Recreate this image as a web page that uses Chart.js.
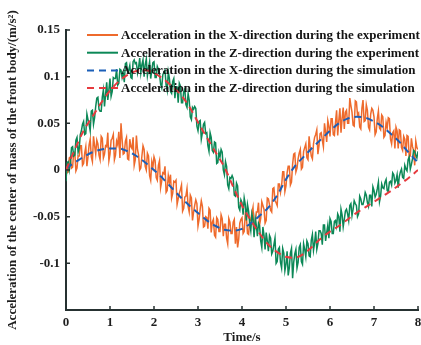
<!DOCTYPE html>
<html>
<head>
<meta charset="utf-8">
<script src="https://cdn.jsdelivr.net/npm/chart.js@4.4.0/dist/chart.umd.min.js"></script>
<style>
  html, body { margin: 0; padding: 0; background: #fff; }
  #wrap { width: 421px; height: 345px; }
</style>
</head>
<body>
<div id="wrap"><canvas id="accelChart" width="421" height="345"></canvas></div>
<script>
// time axes (s)
const simTime = [0, 0.2, 0.4, 0.6, 0.8, 1, 1.2, 1.4, 1.6, 1.8, 2, 2.2, 2.4, 2.6, 2.8, 3, 3.2, 3.4, 3.6, 3.8,
  4, 4.2, 4.4, 4.6, 4.8, 5, 5.2, 5.4, 5.6, 5.8, 6, 6.2, 6.4, 6.6, 6.8, 7, 7.2, 7.4, 7.6, 7.8, 8];
const expTime = [
  0, 0.025, 0.05, 0.075, 0.1, 0.125, 0.15, 0.175, 0.2, 0.225, 0.25, 0.275, 0.3, 0.325, 0.35, 0.375,
  0.4, 0.425, 0.45, 0.475, 0.5, 0.525, 0.55, 0.575, 0.6, 0.625, 0.65, 0.675, 0.7, 0.725, 0.75, 0.775,
  0.8, 0.825, 0.85, 0.875, 0.9, 0.925, 0.95, 0.975, 1, 1.025, 1.05, 1.075, 1.1, 1.125, 1.15, 1.175,
  1.2, 1.225, 1.25, 1.275, 1.3, 1.325, 1.35, 1.375, 1.4, 1.425, 1.45, 1.475, 1.5, 1.525, 1.55, 1.575,
  1.6, 1.625, 1.65, 1.675, 1.7, 1.725, 1.75, 1.775, 1.8, 1.825, 1.85, 1.875, 1.9, 1.925, 1.95, 1.975,
  2, 2.025, 2.05, 2.075, 2.1, 2.125, 2.15, 2.175, 2.2, 2.225, 2.25, 2.275, 2.3, 2.325, 2.35, 2.375,
  2.4, 2.425, 2.45, 2.475, 2.5, 2.525, 2.55, 2.575, 2.6, 2.625, 2.65, 2.675, 2.7, 2.725, 2.75, 2.775,
  2.8, 2.825, 2.85, 2.875, 2.9, 2.925, 2.95, 2.975, 3, 3.025, 3.05, 3.075, 3.1, 3.125, 3.15, 3.175,
  3.2, 3.225, 3.25, 3.275, 3.3, 3.325, 3.35, 3.375, 3.4, 3.425, 3.45, 3.475, 3.5, 3.525, 3.55, 3.575,
  3.6, 3.625, 3.65, 3.675, 3.7, 3.725, 3.75, 3.775, 3.8, 3.825, 3.85, 3.875, 3.9, 3.925, 3.95, 3.975,
  4, 4.025, 4.05, 4.075, 4.1, 4.125, 4.15, 4.175, 4.2, 4.225, 4.25, 4.275, 4.3, 4.325, 4.35, 4.375,
  4.4, 4.425, 4.45, 4.475, 4.5, 4.525, 4.55, 4.575, 4.6, 4.625, 4.65, 4.675, 4.7, 4.725, 4.75, 4.775,
  4.8, 4.825, 4.85, 4.875, 4.9, 4.925, 4.95, 4.975, 5, 5.025, 5.05, 5.075, 5.1, 5.125, 5.15, 5.175,
  5.2, 5.225, 5.25, 5.275, 5.3, 5.325, 5.35, 5.375, 5.4, 5.425, 5.45, 5.475, 5.5, 5.525, 5.55, 5.575,
  5.6, 5.625, 5.65, 5.675, 5.7, 5.725, 5.75, 5.775, 5.8, 5.825, 5.85, 5.875, 5.9, 5.925, 5.95, 5.975,
  6, 6.025, 6.05, 6.075, 6.1, 6.125, 6.15, 6.175, 6.2, 6.225, 6.25, 6.275, 6.3, 6.325, 6.35, 6.375,
  6.4, 6.425, 6.45, 6.475, 6.5, 6.525, 6.55, 6.575, 6.6, 6.625, 6.65, 6.675, 6.7, 6.725, 6.75, 6.775,
  6.8, 6.825, 6.85, 6.875, 6.9, 6.925, 6.95, 6.975, 7, 7.025, 7.05, 7.075, 7.1, 7.125, 7.15, 7.175,
  7.2, 7.225, 7.25, 7.275, 7.3, 7.325, 7.35, 7.375, 7.4, 7.425, 7.45, 7.475, 7.5, 7.525, 7.55, 7.575,
  7.6, 7.625, 7.65, 7.675, 7.7, 7.725, 7.75, 7.775, 7.8, 7.825, 7.85, 7.875, 7.9, 7.925, 7.95, 7.975,
  8];

// simulation (m/s^2)
const xSim = [0.002, 0.008, 0.014, 0.019, 0.022, 0.023, 0.023, 0.020, 0.015, 0.008, 0.000, -0.009, -0.019, -0.029,
  -0.038, -0.046, -0.054, -0.060, -0.064, -0.065, -0.063, -0.057, -0.049, -0.040, -0.027, -0.010, 0.004, 0.014,
  0.024, 0.033, 0.042, 0.050, 0.055, 0.057, 0.056, 0.052, 0.046, 0.038, 0.029, 0.018, 0.008];
const zSim = [0.000, 0.022, 0.042, 0.057, 0.072, 0.085, 0.095, 0.102, 0.106, 0.107, 0.104, 0.098, 0.090, 0.081,
  0.068, 0.051, 0.035, 0.019, 0.003, -0.018, -0.038, -0.054, -0.068, -0.080, -0.088, -0.093, -0.094, -0.090,
  -0.082, -0.073, -0.066, -0.060, -0.053, -0.046, -0.040, -0.034, -0.028, -0.022, -0.015, -0.008, 0.000];

// experiment (m/s^2)
const xExp = [
  0.004, -0.003, -0.002, 0.013, 0.014, 0.002, 0.003, 0.019, 0.019, -0.001, 0.002, 0.015, 0.015, 0.026, 0.026, 0.005,
  0.007, 0.018, 0.025, 0.004, 0.014, 0.027, 0.033, 0.014, 0.009, 0.036, 0.026, 0.017, 0.032, 0.028, 0.016, 0.011,
  0.036, 0.034, 0.013, 0.017, 0.026, 0.025, 0.040, 0.010, 0.017, 0.032, 0.034, 0.038, 0.011, 0.016, 0.031, 0.027,
  0.041, 0.013, 0.050, 0.033, 0.017, 0.018, 0.031, 0.035, 0.012, 0.011, 0.033, 0.025, 0.023, 0.035, 0.005, 0.011,
  0.037, 0.022, 0.016, 0.000, 0.002, 0.015, 0.026, 0.022, 0.004, 0.000, 0.018, 0.015, -0.006, -0.011, 0.009, 0.003,
  0.014, 0.010, -0.008, -0.011, 0.005, 0.010, -0.019, -0.012, -0.003, -0.004, 0.004, -0.024, -0.022, -0.006, -0.013, -0.005,
  -0.030, -0.025, -0.012, -0.013, -0.011, -0.037, -0.031, -0.025, -0.021, -0.016, -0.044, -0.041, -0.029, -0.028, -0.020, -0.039,
  -0.045, -0.027, -0.030, -0.054, -0.045, -0.038, -0.032, -0.036, -0.060, -0.053, -0.042, -0.033, -0.039, -0.061, -0.060, -0.050,
  -0.051, -0.063, -0.041, -0.043, -0.067, -0.056, -0.053, -0.070, -0.072, -0.051, -0.053, -0.066, -0.066, -0.048, -0.052, -0.071,
  -0.058, -0.058, -0.073, -0.079, -0.052, -0.056, -0.068, -0.068, -0.056, -0.053, -0.079, -0.061, -0.083, -0.074, -0.057, -0.053,
  -0.051, -0.068, -0.066, -0.047, -0.050, -0.068, -0.069, -0.055, -0.053, -0.046, -0.040, -0.066, -0.061, -0.045, -0.045, -0.035,
  -0.059, -0.052, -0.034, -0.038, -0.042, -0.057, -0.054, -0.030, -0.031, -0.037, -0.043, -0.045, -0.020, -0.019, -0.033, -0.035,
  -0.038, -0.015, -0.015, -0.024, -0.017, -0.002, -0.002, -0.023, -0.017, -0.003, 0.004, 0.004, -0.016, -0.013, 0.006, 0.017,
  0.018, -0.002, 0.002, 0.012, 0.018, 0.022, 0.001, 0.003, 0.020, 0.024, 0.028, 0.013, 0.011, 0.036, 0.024, 0.015,
  0.012, 0.028, 0.035, 0.038, 0.043, 0.017, 0.026, 0.039, 0.040, 0.032, 0.025, 0.050, 0.041, 0.030, 0.053, 0.047,
  0.036, 0.055, 0.055, 0.038, 0.037, 0.051, 0.064, 0.037, 0.053, 0.066, 0.040, 0.055, 0.067, 0.044, 0.062, 0.064,
  0.050, 0.050, 0.077, 0.069, 0.062, 0.048, 0.047, 0.074, 0.073, 0.059, 0.061, 0.046, 0.044, 0.066, 0.075, 0.052,
  0.053, 0.070, 0.064, 0.046, 0.043, 0.060, 0.066, 0.064, 0.057, 0.038, 0.041, 0.055, 0.063, 0.045, 0.043, 0.059,
  0.057, 0.035, 0.037, 0.051, 0.045, 0.056, 0.055, 0.033, 0.028, 0.040, 0.042, 0.023, 0.046, 0.042, 0.023, 0.043,
  0.042, 0.024, 0.021, 0.036, 0.033, 0.015, 0.037, 0.036, 0.014, 0.015, 0.034, 0.025, 0.021, 0.005, 0.031, 0.024,
  0.022];
const zExp = [
  -0.012, 0.008, 0.009, 0.000, 0.008, 0.024, 0.025, 0.015, 0.016, 0.032, 0.035, 0.019, 0.023, 0.038, 0.042, 0.049,
  0.052, 0.038, 0.039, 0.060, 0.054, 0.049, 0.042, 0.063, 0.064, 0.049, 0.056, 0.068, 0.077, 0.078, 0.065, 0.063,
  0.063, 0.078, 0.086, 0.068, 0.081, 0.094, 0.075, 0.086, 0.098, 0.079, 0.084, 0.099, 0.098, 0.098, 0.108, 0.091,
  0.093, 0.108, 0.107, 0.099, 0.104, 0.094, 0.114, 0.115, 0.105, 0.107, 0.112, 0.099, 0.098, 0.116, 0.118, 0.114,
  0.115, 0.104, 0.110, 0.120, 0.104, 0.113, 0.118, 0.100, 0.113, 0.119, 0.101, 0.109, 0.116, 0.098, 0.107, 0.115,
  0.116, 0.099, 0.099, 0.111, 0.108, 0.103, 0.092, 0.088, 0.102, 0.105, 0.107, 0.091, 0.085, 0.105, 0.098, 0.084,
  0.082, 0.095, 0.098, 0.077, 0.089, 0.089, 0.072, 0.093, 0.090, 0.072, 0.072, 0.084, 0.087, 0.070, 0.067, 0.082,
  0.075, 0.057, 0.054, 0.067, 0.065, 0.068, 0.066, 0.047, 0.042, 0.052, 0.053, 0.033, 0.040, 0.049, 0.051, 0.039,
  0.040, 0.026, 0.020, 0.040, 0.035, 0.021, 0.019, 0.030, 0.029, 0.007, 0.008, 0.019, 0.014, 0.022, 0.019, 0.000,
  -0.005, 0.009, 0.004, -0.016, -0.020, -0.008, -0.009, -0.006, -0.009, -0.027, -0.028, -0.014, -0.017, -0.040, -0.043, -0.032,
  -0.035, -0.048, -0.030, -0.037, -0.054, -0.037, -0.044, -0.057, -0.065, -0.047, -0.053, -0.072, -0.052, -0.059, -0.071, -0.057,
  -0.060, -0.076, -0.083, -0.061, -0.070, -0.085, -0.067, -0.076, -0.087, -0.070, -0.073, -0.090, -0.087, -0.080, -0.073, -0.100,
  -0.098, -0.085, -0.083, -0.099, -0.105, -0.084, -0.089, -0.108, -0.101, -0.087, -0.113, -0.105, -0.089, -0.084, -0.116, -0.099,
  -0.090, -0.085, -0.105, -0.099, -0.083, -0.080, -0.098, -0.101, -0.079, -0.085, -0.093, -0.076, -0.079, -0.092, -0.093, -0.075,
  -0.069, -0.086, -0.078, -0.066, -0.085, -0.079, -0.065, -0.065, -0.068, -0.080, -0.059, -0.059, -0.076, -0.067, -0.059, -0.073,
  -0.052, -0.055, -0.068, -0.068, -0.055, -0.054, -0.060, -0.047, -0.050, -0.066, -0.042, -0.048, -0.061, -0.053, -0.044, -0.042,
  -0.047, -0.054, -0.038, -0.036, -0.049, -0.042, -0.033, -0.036, -0.038, -0.050, -0.047, -0.028, -0.031, -0.037, -0.037, -0.032,
  -0.024, -0.027, -0.035, -0.039, -0.027, -0.027, -0.039, -0.018, -0.022, -0.029, -0.026, -0.020, -0.013, -0.034, -0.028, -0.015,
  -0.019, -0.020, -0.013, -0.010, -0.022, -0.023, -0.013, -0.012, -0.016, -0.003, -0.005, -0.014, -0.011, -0.005, -0.019, -0.007,
  -0.002, 0.001, -0.008, -0.009, 0.005, 0.001, -0.001, 0.011, 0.014, 0.001, 0.006, 0.012, 0.021, 0.020, 0.016, 0.013,
  0.020];

const xTicks = [0, 1, 2, 3, 4, 5, 6, 7, 8];
const yTicks = [-0.15, -0.1, -0.05, 0, 0.05, 0.1, 0.15];
const yTickLabels = ['', '-0.1', '-0.05', '0', '0.05', '0.1', '0.15'];

const seriesLabels = [
  'Acceleration in the X-direction during the experiment',
  'Acceleration in the Z-direction during the experiment',
  'Acceleration in the X-direction during the simulation',
  'Acceleration in the Z-direction during the simulation'
];

const axisColor = '#263131';
const serif = "'Liberation Serif', 'Times New Roman', serif";
const boldFont = { family: serif, size: 13, weight: 'bold' };

function toPoints(times, values) {
  return values.map((v, i) => ({ x: times[i], y: v }));
}

// inward tick marks like the original figure
const innerTicks = {
  id: 'innerTicks',
  afterDraw(chart) {
    const { ctx, chartArea: a, scales: { x, y } } = chart;
    ctx.save();
    ctx.strokeStyle = axisColor;
    ctx.lineWidth = 1.5;
    ctx.beginPath();
    xTicks.forEach(t => {
      const px = x.getPixelForValue(t);
      ctx.moveTo(px, a.bottom);
      ctx.lineTo(px, a.bottom - 4);
    });
    yTicks.forEach(v => {
      const py = y.getPixelForValue(v);
      ctx.moveTo(a.left, py);
      ctx.lineTo(a.left + 4, py);
    });
    ctx.stroke();
    ctx.restore();
  }
};

// legend without a box, sitting inside the plot area
const insideLegend = {
  id: 'insideLegend',
  afterDraw(chart) {
    const { ctx, chartArea: a } = chart;
    ctx.save();
    ctx.font = 'bold 13px ' + serif;
    ctx.textBaseline = 'middle';
    chart.data.datasets.forEach((ds, i) => {
      const yy = a.top + 5 + i * 17.7;
      ctx.strokeStyle = ds.borderColor;
      ctx.lineWidth = 2;
      ctx.setLineDash(ds.borderDash || []);
      ctx.beginPath();
      ctx.moveTo(a.left + 21, yy);
      ctx.lineTo(a.left + 52, yy);
      ctx.stroke();
      ctx.setLineDash([]);
      ctx.fillStyle = '#141414';
      ctx.fillText(ds.label, a.left + 55, yy + 0.5);
    });
    ctx.restore();
  }
};

new Chart(document.getElementById('accelChart'), {
  type: 'line',
  data: {
    datasets: [
      {
        label: seriesLabels[0],
        data: toPoints(expTime, xExp),
        borderColor: '#EE6A2C',
        borderWidth: 1.5,
        pointRadius: 0,
        tension: 0,
        order: 4
      },
      {
        label: seriesLabels[1],
        data: toPoints(expTime, zExp),
        borderColor: '#0C8857',
        borderWidth: 1.5,
        pointRadius: 0,
        tension: 0,
        order: 3
      },
      {
        label: seriesLabels[2],
        data: toPoints(simTime, xSim),
        borderColor: '#1B5FB8',
        borderWidth: 2,
        borderDash: [7, 5],
        pointRadius: 0,
        cubicInterpolationMode: 'monotone',
        order: 2
      },
      {
        label: seriesLabels[3],
        data: toPoints(simTime, zSim),
        borderColor: '#E63A3E',
        borderWidth: 2,
        borderDash: [7, 5],
        pointRadius: 0,
        cubicInterpolationMode: 'monotone',
        order: 1
      }
    ]
  },
  options: {
    responsive: false,
    animation: false,
    devicePixelRatio: 1,
    layout: { padding: { top: 30, right: 3, left: 0, bottom: 0 } },
    plugins: {
      legend: { display: false },
      tooltip: { enabled: false }
    },
    scales: {
      x: {
        type: 'linear',
        min: 0,
        max: 8,
        afterBuildTicks: s => { s.ticks = xTicks.map(v => ({ value: v })); },
        afterFit: s => { s.height = 35; s.paddingLeft = 0; s.paddingRight = 0; },
        grid: { display: false, drawTicks: false },
        border: { display: true, color: axisColor, width: 2 },
        ticks: { color: '#1e1e1e', font: boldFont, padding: 5, maxRotation: 0 },
        title: { display: true, text: 'Time/s', color: '#1e1e1e', font: boldFont, padding: { top: 0, bottom: 0 } }
      },
      y: {
        type: 'linear',
        min: -0.15,
        max: 0.15,
        afterBuildTicks: s => { s.ticks = yTicks.map(v => ({ value: v })); },
        afterFit: s => { s.width = 66; s.paddingTop = 0; s.paddingBottom = 0; },
        grid: { display: false, drawTicks: false },
        border: { display: true, color: axisColor, width: 2 },
        ticks: {
          color: '#1e1e1e',
          font: boldFont,
          padding: 6,
          callback: (value, index) => yTickLabels[index]
        },
        title: {
          display: true,
          text: 'Acceleration of the center of mass of the front body/(m/s\u00B2)',
          color: '#1e1e1e',
          font: boldFont,
          padding: { top: 5, bottom: 0 }
        }
      }
    }
  },
  plugins: [innerTicks, insideLegend]
});
</script>
</body>
</html>
